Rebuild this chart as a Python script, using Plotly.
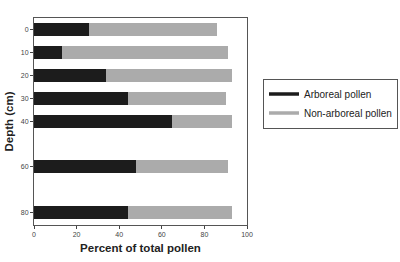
import plotly.graph_objects as go

depths = [0, 10, 20, 30, 40, 60, 80]
arboreal = [26, 13, 34, 44, 65, 48, 44]
non_arboreal = [60, 78, 59, 46, 28, 43, 49]
x_ticks = [0, 20, 40, 60, 80, 100]

BLACK = "#1c1c1c"
GREY = "#ababab"
FONT = "Liberation Sans, Arial, sans-serif"

fig = go.Figure()
fig.add_trace(go.Bar(y=depths, x=arboreal, orientation="h", marker=dict(color=BLACK, line_width=0),
                     width=5.7, showlegend=False, name="Arboreal pollen"))
fig.add_trace(go.Bar(y=depths, x=non_arboreal, orientation="h", marker=dict(color=GREY, line_width=0),
                     width=5.7, showlegend=False, name="Non-arboreal pollen"))
fig.add_trace(go.Scatter(x=[None], y=[None], mode="lines", line=dict(color=BLACK, width=3.5),
                         name="Arboreal pollen"))
fig.add_trace(go.Scatter(x=[None], y=[None], mode="lines", line=dict(color=GREY, width=3.5),
                         name="Non-arboreal pollen"))

fig.update_layout(
    barmode="stack",
    width=400, height=262,
    margin=dict(l=34, r=153, t=18, b=37, autoexpand=False),
    paper_bgcolor="white", plot_bgcolor="white",
    font=dict(family=FONT, color="#222"),
    legend=dict(xref="container", yref="container", x=0.6575, y=0.70,
                xanchor="left", yanchor="top", traceorder="normal",
                bordercolor="#555", borderwidth=1, font=dict(size=10, color="#222"),
                tracegroupgap=0, itemwidth=30),
)
fig.update_xaxes(range=[0, 100], tickvals=x_ticks, ticks="outside", ticklen=3,
                 tickfont=dict(size=7, color="#444"), showgrid=False, zeroline=False,
                 showline=True, linecolor="#555", linewidth=1, mirror=True, automargin=False,
                 title=dict(text="<b>Percent of total pollen</b>", font=dict(size=11.5, color="#222"), standoff=6))
fig.update_yaxes(range=[85.4, -5.1], tickvals=depths, ticks="outside", ticklen=3,
                 tickfont=dict(size=7, color="#444"), showgrid=False, zeroline=False,
                 showline=True, linecolor="#555", linewidth=1, mirror=True, automargin=False,
                 title=dict(text="<b>Depth (cm)</b>", font=dict(size=11.5, color="#222"), standoff=4))

fig.write_html("out.html")
